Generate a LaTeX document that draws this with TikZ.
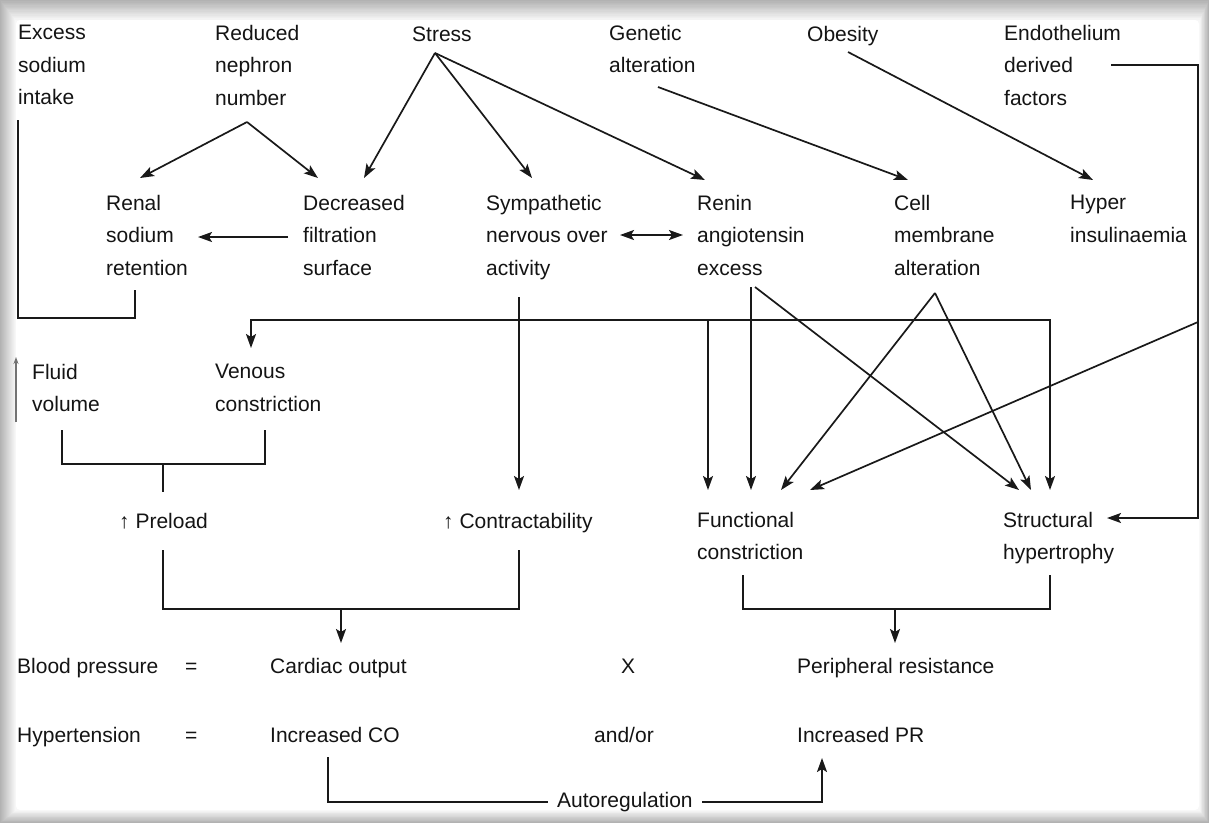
\documentclass[tikz,border=0pt]{standalone}
\usepackage{fontspec}
\setmainfont{Liberation Sans}
\usetikzlibrary{arrows.meta,calc}
\begin{document}
\begin{tikzpicture}[x=1pt,y=-1pt,
  lab/.style={anchor=north west,inner sep=0pt,align=left,text=black!92,
    font=\fontsize{21}{32.5}\selectfont,execute at begin node={\rule{0pt}{16pt}}},
  ln/.style={draw=black!90,line width=1.7pt},
  arr/.style={ln,-{Stealth[length=14pt,width=10pt,inset=3pt]}},
  dbl/.style={ln,{Stealth[length=14pt,width=10pt,inset=3pt]}-{Stealth[length=14pt,width=10pt,inset=3pt]}}]
\useasboundingbox (0,0) rectangle (1209,823);
% frame with soft shadow
\fill[black!10] (0,0) rectangle (1209,823);
\foreach \i in {0,...,15}{\pgfmathsetmacro\c{30-1.8*\i}\fill[black!\c] (\i,1.3*\i) rectangle (1209-0.6*\i,823-0.8*\i);}
\fill[white,rounded corners=4pt] (16,20) rectangle (1199,810);
% row 1
\node[lab] (exc) at (18,25) {Excess\\sodium\\intake};
\node[lab] (red) at (215,25) {Reduced\\nephron\\number};
\node[lab] (str) at (412,25) {Stress};
\node[lab] (gen) at (609,25) {Genetic\\alteration};
\node[lab] (obe) at (807,25) {Obesity};
\node[lab] (endo) at (1004,25) {Endothelium\\derived\\factors};
% row 2
\node[lab] (ren) at (106,195) {Renal\\sodium\\retention};
\node[lab] (dec) at (303,195) {Decreased\\filtration\\surface};
\node[lab] (sym) at (486,195) {Sympathetic\\nervous over\\activity};
\node[lab] (rae) at (697,195) {Renin\\angiotensin\\excess};
\node[lab] (cell) at (894,195) {Cell\\membrane\\alteration};
\node[lab] (hyp) at (1070,195) {Hyper\\insulinaemia};
% row 3
\node[lab] (flu) at (32,364) {Fluid\\volume};
\node[lab] (ven) at (215,364) {Venous\\constriction};
% row 4
\node[lab] (pre) at (119,512) {↑ Preload};
\node[lab] (con) at (443,512) {↑ Contractability};
\node[lab] (fun) at (697,512) {Functional\\constriction};
\node[lab] (stc) at (1003,512) {Structural\\hypertrophy};
% rows 5, 6
\node[lab] (bp) at (17,657) {Blood pressure};
\node[lab] (eqa) at (185,657) {=};
\node[lab] (co) at (270,657) {Cardiac output};
\node[lab] (xx) at (621,657) {X};
\node[lab] (pr) at (797,657) {Peripheral resistance};
\node[lab] (hy) at (17,726) {Hypertension};
\node[lab] (eqb) at (185,726) {=};
\node[lab] (ico) at (270,726) {Increased CO};
\node[lab] (ao) at (594,726) {and/or};
\node[lab] (ipr) at (797,726) {Increased PR};
\node[lab] (aut) at (557,791) {Autoregulation};
% connectors, top part
\draw[arr] ($(red.north west)+(32,97)$) -- ($(ren.north west)+(34,-17)$);
\draw[arr] ($(red.north west)+(32,97)$) -- ($(dec.north west)+(15,-17)$);
\draw[arr] ($(str.north west)+(23,28)$) -- ($(dec.north west)+(61,-17)$);
\draw[arr] ($(str.north west)+(23,28)$) -- ($(sym.north west)+(46,-17)$);
\draw[arr] ($(str.north west)+(23,28)$) -- ($(rae.north west)+(8,-15)$);
\draw[arr] ($(gen.north west)+(49,62)$) -- ($(cell.north west)+(14,-15)$);
\draw[arr] ($(obe.north west)+(41,27)$) -- ($(hyp.north west)+(23,-15)$);
\draw[arr] ($(dec.north west)+(-15,42)$) -- ($(ren.north west)+(92,42)$);
\draw[dbl] ($(sym.north west)+(134,40)$) -- ($(rae.north west)+(-14,40)$);
\draw[ln] ($(exc.north west)+(0,95)$) |- ($(ren.north west)+(29,123)$) -- ($(ren.north west)+(29,95)$);
\draw[black!55,line width=1.2pt,-{Stealth[length=7pt,width=5pt]}] ($(flu.north west)+(-16,58)$) -- ($(flu.north west)+(-16,-7)$);
% middle part
\coordinate (br) at ($(sym.north west)+(33,125)$);
\draw[arr] ($(sym.north west)+(33,102)$) -- ($(con.north west)+(76,-22)$);
\draw[arr] (br) -| ($(ven.north west)+(36,-16)$);
\draw[arr] (br) -| ($(stc.north west)+(47,-22)$);
\coordinate (fj) at ($(fun.north west)+(11,-22)$);
\draw[arr] (fj |- br) -- (fj);
\draw[arr] ($(rae.north west)+(54,92)$) -- ($(fun.north west)+(54,-22)$);
\draw[arr] ($(rae.north west)+(58,92)$) -- ($(stc.north west)+(16,-22)$);
\draw[arr] ($(cell.north west)+(41,98)$) -- ($(fun.north west)+(84,-22)$);
\draw[arr] ($(cell.north west)+(41,98)$) -- ($(stc.north west)+(28,-22)$);
\draw[arr] ($(hyp.north west)+(128,127)$) -- ($(fun.north west)+(113,-22)$);
\draw[arr] ($(endo.north west)+(107,40)$) -| ($(stc.north west)+(195,6)$) -- ($(stc.north west)+(104,6)$);
% brackets
\draw[ln] ($(flu.north west)+(30,66)$) |- ($(ven.north west)+(50,100)$) -- ($(ven.north west)+(50,66)$);
\draw[ln] ($(pre.north west)+(44,-48)$) -- ($(pre.north west)+(44,-20)$);
\draw[ln] ($(pre.north west)+(44,38)$) |- ($(con.north west)+(76,97)$) -- ($(con.north west)+(76,38)$);
\draw[arr] ($(co.north west)+(71,-48)$) -- ($(co.north west)+(71,-14)$);
\draw[ln] ($(fun.north west)+(46,63)$) |- ($(stc.north west)+(47,97)$) -- ($(stc.north west)+(47,63)$);
\draw[arr] ($(pr.north west)+(98,-48)$) -- ($(pr.north west)+(98,-14)$);
\draw[ln] ($(ico.north west)+(58,31)$) |- ($(aut.north west)+(-9,11)$);
\draw[arr] ($(aut.north west)+(145,11)$) -| ($(ipr.north west)+(25,32)$);
\end{tikzpicture}
\end{document}
